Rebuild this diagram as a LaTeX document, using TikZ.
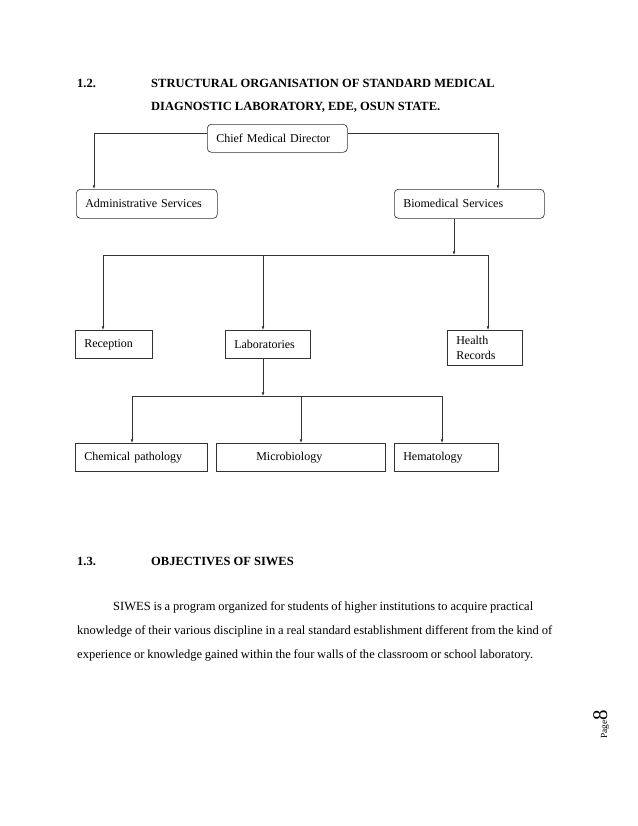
\documentclass[tikz,border=0pt]{standalone}
\usepackage{fontspec}
\setmainfont{Liberation Serif}
\usetikzlibrary{arrows.meta}
\newlength\pxu
\setlength\pxu{0.9592pt}
\newcommand\chartfont{\fontsize{11.5}{14.2}\selectfont}
\newcommand\bodyfont{\fontsize{12}{14}\selectfont}
\begin{document}
\begin{tikzpicture}[x=1\pxu, y=-1\pxu,
  box/.style={draw=black!80, line width=0.6pt, anchor=north west, inner xsep=9\pxu, inner ysep=0pt, align=left, font=\chartfont},
  rbox/.style={box, rounded corners=4\pxu},
  conn/.style={draw=black!80, line width=0.6pt},
  arr/.style={conn, -{Latex[length=3.5pt,width=2.6pt]}},
  txt/.style={anchor=base west, inner sep=0pt, font=\bodyfont},
  head/.style={txt, font=\bodyfont\bfseries}]
\useasboundingbox (0,0) rectangle (638,826);
% headings
\node[head] (n12) at (77,87) {1.2.};
\node[head] (t1) at (151,87) {STRUCTURAL ORGANISATION OF STANDARD MEDICAL};
\node[head] (t2) at (151,110) {DIAGNOSTIC LABORATORY, EDE, OSUN STATE.};
% boxes
\node[rbox, text width=122\pxu, minimum height=28\pxu] (chief) at (207,124) {Chief Medical Director};
\node[rbox, text width=123\pxu, minimum height=29\pxu] (admin) at (76,189) {Administrative Services};
\node[rbox, text width=132\pxu, minimum height=29\pxu] (bio) at (394,189) {Biomedical Services};
\node[box, text width=59\pxu, minimum height=28\pxu] (rec) at (75,330) {Reception};
\node[box, text width=67\pxu, minimum height=28\pxu] (lab) at (225,330) {Laboratories};
\node[box, text width=57\pxu, minimum height=35\pxu] (health) at (447,330) {Health\\Records};
\node[box, text width=114\pxu, minimum height=28\pxu] (chem) at (75,443) {Chemical pathology};
\node[box, text width=151\pxu, minimum height=28\pxu] (micro) at (216,443) {\hspace*{31\pxu}Microbiology};
\node[box, text width=86\pxu, minimum height=28\pxu] (hema) at (394,443) {Hematology};
% connectors
\draw[arr] ([yshift=-9\pxu]chief.north west) -| ([xshift=18\pxu]admin.north west);
\draw[arr] ([yshift=-9\pxu]chief.north east) -| ([xshift=104\pxu]bio.north west);
\coordinate (bioB) at ([xshift=60\pxu]bio.south west);
\coordinate (bus1) at (454,255);
\coordinate (recT) at ([xshift=28\pxu]rec.north west);
\coordinate (labT) at ([xshift=38\pxu]lab.north west);
\coordinate (labB) at ([xshift=38\pxu]lab.south west);
\coordinate (healthT) at ([xshift=41\pxu]health.north west);
\draw[arr] (bioB) -- (bus1);
\draw[conn] (recT |- bus1) -- (healthT |- bus1);
\draw[arr] (recT |- bus1) -- (recT);
\draw[arr] (labT |- bus1) -- (labT);
\draw[arr] (healthT |- bus1) -- (healthT);
\coordinate (bus2) at (263,396);
\coordinate (chemT) at ([xshift=57\pxu]chem.north west);
\coordinate (microT) at ([xshift=85\pxu]micro.north west);
\coordinate (hemaT) at ([xshift=48\pxu]hema.north west);
\draw[arr] (labB) -- (labB |- bus2);
\draw[conn] (chemT |- bus2) -- (hemaT |- bus2);
\draw[arr] (chemT |- bus2) -- (chemT);
\draw[arr] (microT |- bus2) -- (microT);
\draw[arr] (hemaT |- bus2) -- (hemaT);
% section 1.3
\node[head] (n13) at (77,565) {1.3.};
\node[head] (t3) at (151,565) {OBJECTIVES OF SIWES};
\node[txt] (p1) at (113,610) {\makebox[420\pxu][s]{SIWES is a program organized for students of higher institutions to acquire practical}};
\node[txt] (p2) at (77,634) {\makebox[475\pxu][s]{knowledge of their various discipline in a real standard establishment different from the kind of}};
\node[txt] (p3) at (77,658) {\makebox[456\pxu][s]{experience or knowledge gained within the four walls of the classroom or school laboratory.}};
% page number
\node[rotate=90, anchor=base west, inner sep=0pt] (pg) at (607,739) {\fontsize{9}{9}\selectfont Page\fontsize{20}{20}\selectfont 8};
\end{tikzpicture}
\end{document}
